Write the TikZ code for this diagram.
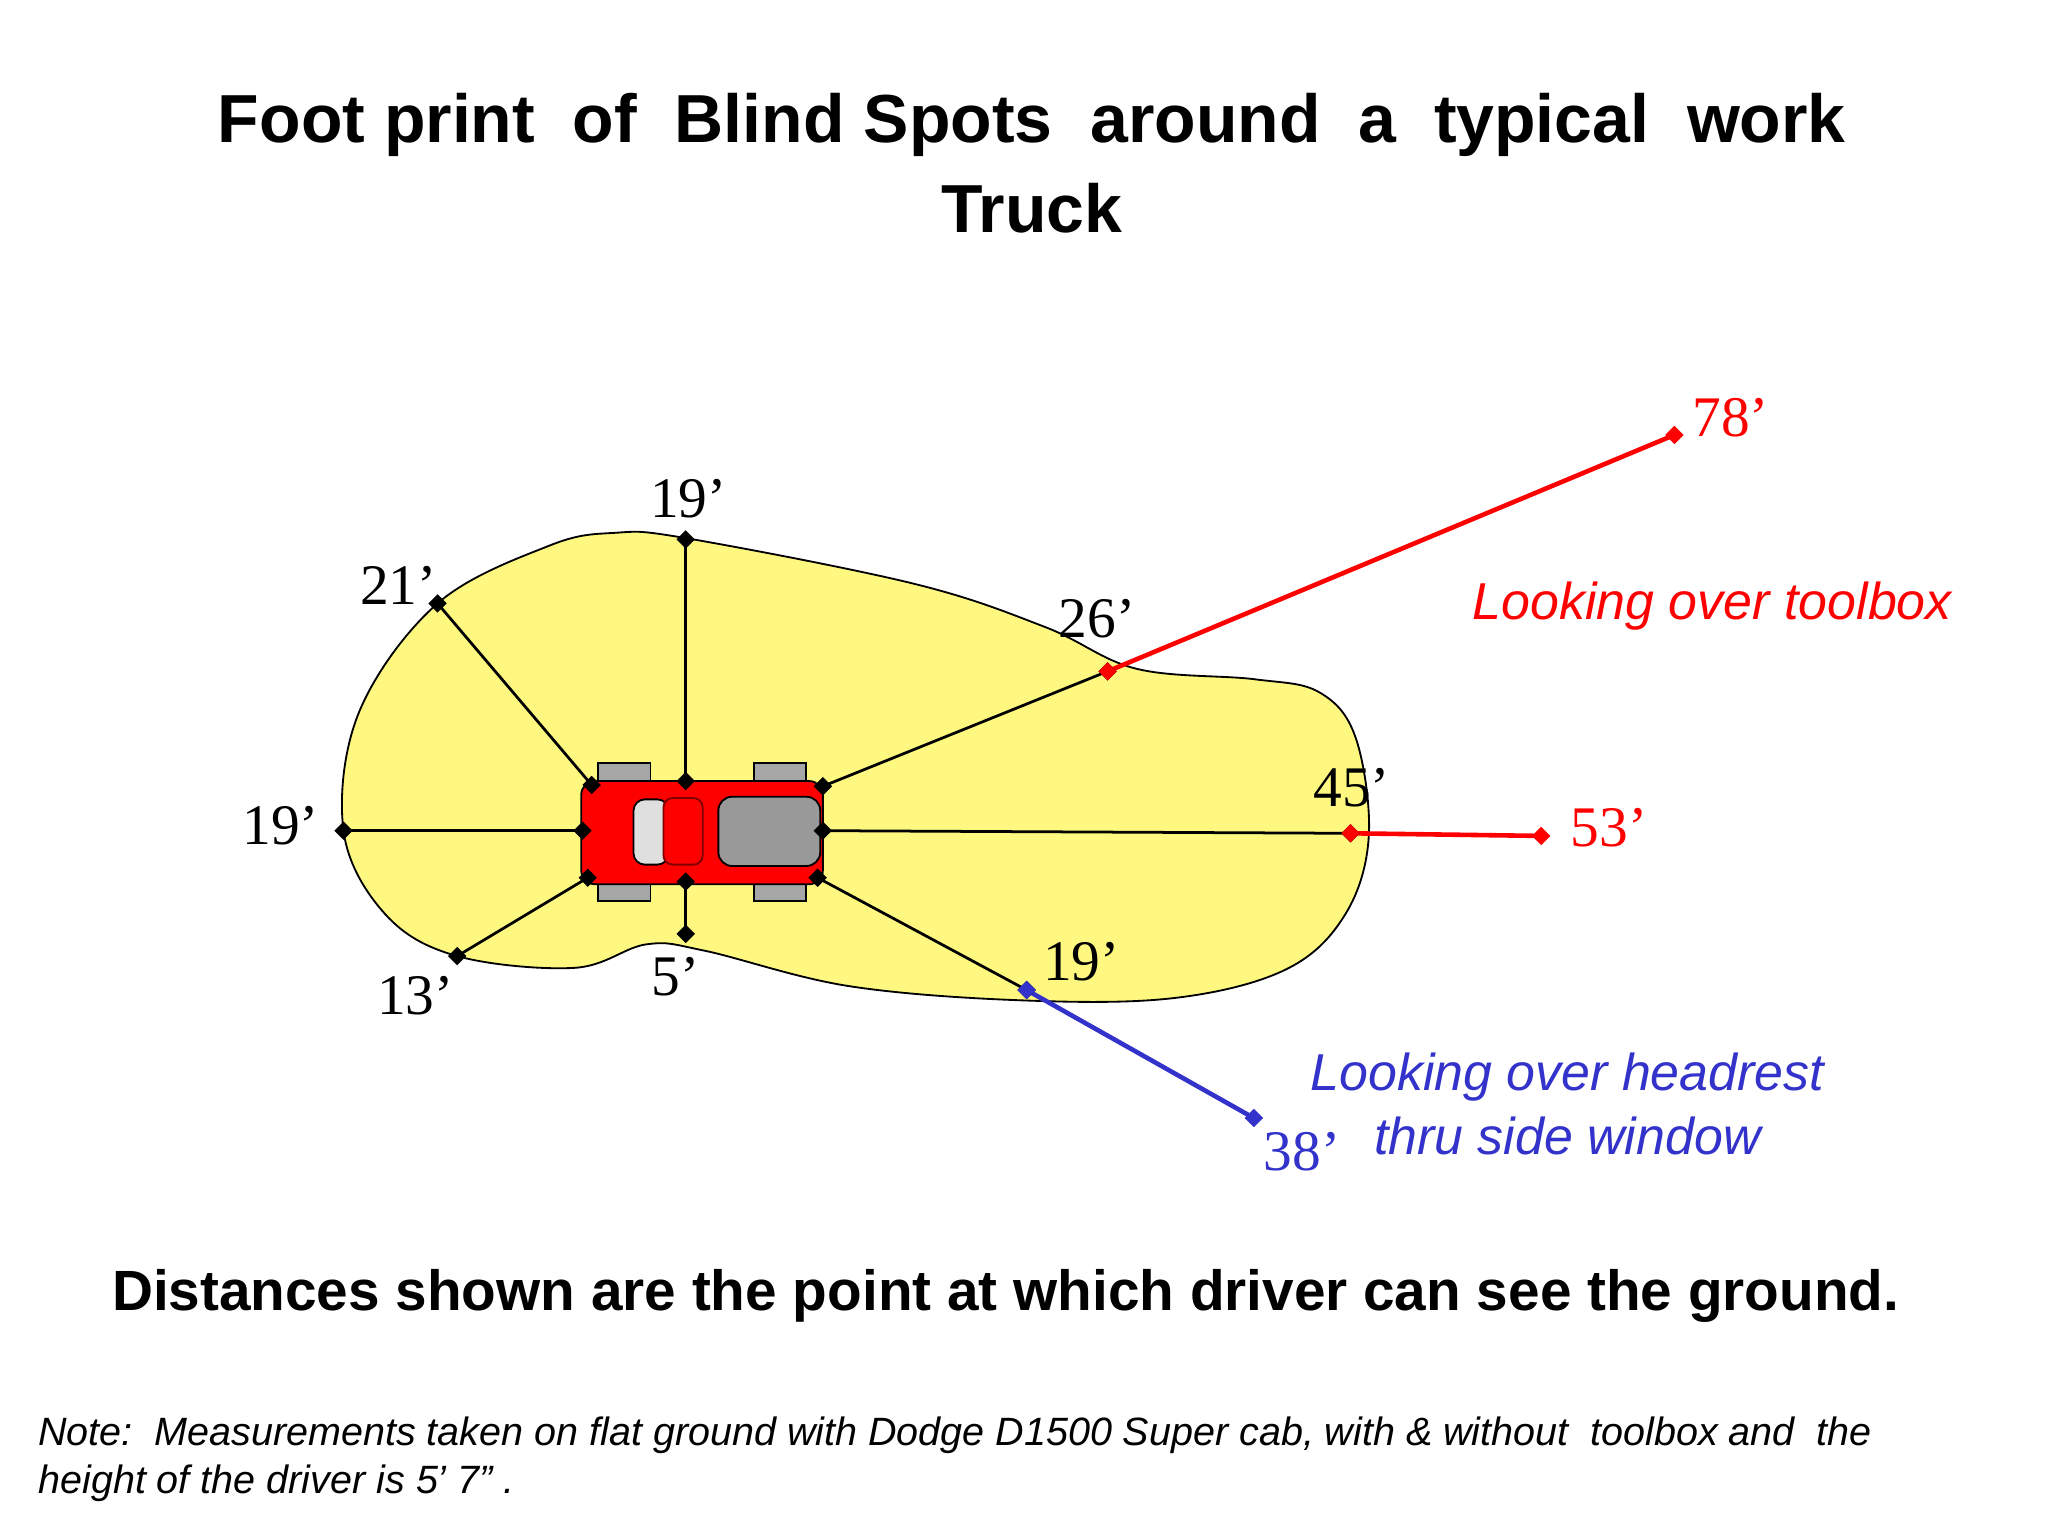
\documentclass[tikz,border=0pt]{standalone}
\usepackage{fontspec}
\usetikzlibrary{shapes.geometric}
\setmainfont{Liberation Serif}
\newfontfamily\sansf{Liberation Sans}
\definecolor{bl}{RGB}{51,51,204}
\begin{document}
\begin{tikzpicture}[x=0.01cm,y=-0.01cm,
 mk/.style={fill=#1,draw=#1,inner sep=0pt,minimum size=3.6pt,shape=diamond},
 lab/.style={font=\fontsize{12.5}{15}\selectfont,text=#1},
 lab/.default=black]
\useasboundingbox (0,0) rectangle (1568,1176);
\node[font=\sansf\bfseries\fontsize{14.8}{17.5}\selectfont,align=center] (title) at (790,125) {Foot print\ \ of\ \ Blind Spots\ \ around\ \ a\ \ typical\ \ work\\[2pt]Truck};
% blob
\draw[fill=yellow!50] plot[smooth cycle,tension=0.6] coordinates{
 (263,636) (275,545) (335,462) (420,418) (470,408) (525,412) (700,447) (800,480) (870,512) (960,520) (1010,530) (1038,565) (1048,640) (1030,700) (985,742) (900,764) (785,766) (650,755) (540,728) (495,723) (440,741) (350,732) (295,700)};
% lines
\foreach \a/\b/\n in {453/601/t1,335/462/e1,525/598/t2,525/413/e2,630/602/t3,848/514/e3,446/636/t4,263/636/e4,630/636/t5,1034/638/e5,450/672/t6,350/732/e6,525/675/t7,525/715/e7,626/672/t8,786/758/e8}
  \coordinate (\n) at (\a,\b);
\coordinate (r1) at (1282,333); \coordinate (r2) at (1180,640); \coordinate (b1) at (960,856);
\foreach \i in {1,...,8} \draw[line width=0.6pt] (t\i) -- (e\i);
\draw[red,line width=1pt] (e3) -- (r1);
\draw[red,line width=1pt] (e5) -- (r2);
\draw[bl,line width=1pt] (e8) -- (b1);
% truck
\foreach \x in {458,577}{\draw[fill=gray!70] (\x,584) rectangle +(40,15); \draw[fill=gray!70] (\x,676) rectangle +(40,14);}
\draw[fill=red,rounded corners=3pt] (445,598) rectangle (630,677);
\draw[fill=gray!25,rounded corners=2.5pt] (485,612) rectangle (512,662);
\draw[fill=red,draw=red!50!black,rounded corners=2pt] (508,611) rectangle (538,662);
\draw[fill=gray!80,rounded corners=3pt] (550,610) rectangle (628,663);
\foreach \i in {1,...,8} {\node[mk=black] at (t\i){}; \node[mk=black] at (e\i){};}
\node[mk=red] at (e3){}; \node[mk=red] at (e5){}; \node[mk=red] at (r1){}; \node[mk=red] at (r2){};
\node[mk=bl] at (e8){}; \node[mk=bl] at (b1){};
% labels
\node[lab] (l1) at (305,448) {21’};
\node[lab] (l2) at (527,382) {19’};
\node[lab] (l3) at (840,474) {26’};
\node[lab] (l4) at (215,632) {19’};
\node[lab] (l5) at (1035,603) {45’};
\node[lab] (l6) at (318,762) {13’};
\node[lab] (l7) at (517,748) {5’};
\node[lab] (l8) at (828,736) {19’};
\node[lab=red] (l9) at (1325,320) {78’};
\node[lab=red] (l10) at (1232,634) {53’};
\node[lab=bl] (l11) at (997,882) {38’};
\node[font=\sansf\itshape\fontsize{11.3}{13}\selectfont,text=red] (tb) at (1311,464) {Looking over toolbox};
\node[font=\sansf\itshape\fontsize{11.3}{14}\selectfont,text=bl,align=center] (hr) at (1200,845) {Looking over headrest\\thru side window};
\node[font=\sansf\bfseries\fontsize{12.35}{14}\selectfont] (dist) at (770,992) {Distances shown are the point at which driver can see the ground.};
\node[font=\sansf\itshape\fontsize{8.6}{10.4}\selectfont,align=left,anchor=west] (note) at (17,1117) {Note:\ \ Measurements taken on flat ground with Dodge D1500 Super cab, with \& without\ \ toolbox and\ \ the\\height of the driver is 5’ 7” .};
\end{tikzpicture}
\end{document}
